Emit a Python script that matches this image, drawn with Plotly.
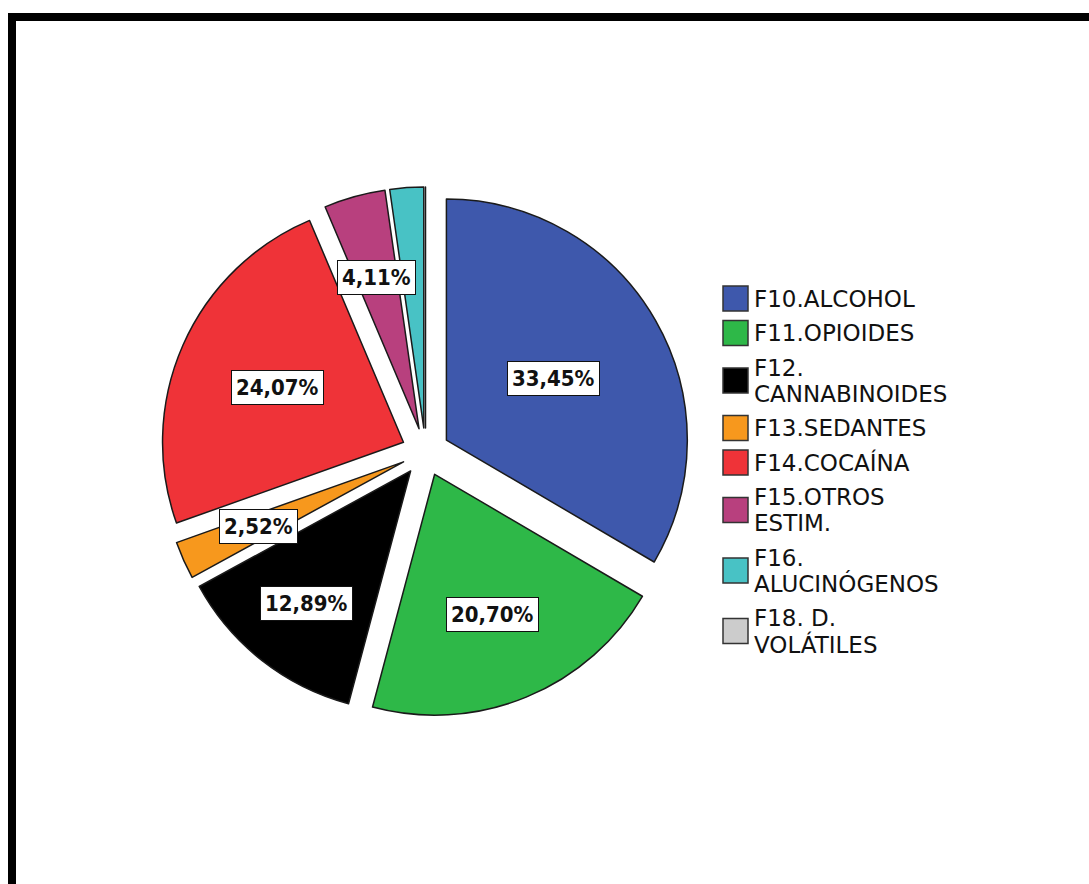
import math
import plotly.graph_objects as go

# Substance categories (ICD-10 F1x groups) and their share of cases, in %
categories = [
    "F10.ALCOHOL",
    "F11.OPIOIDES",
    "F12. CANNABINOIDES",
    "F13.SEDANTES",
    "F14.COCAÍNA",
    "F15.OTROS ESTIM.",
    "F16. ALUCINÓGENOS",
    "F18. D. VOLÁTILES",
]
percentages = [33.45, 20.70, 12.89, 2.52, 24.07, 4.11, 2.26, 0.0]
colors = ["#3E58AC", "#2EB848", "#000000", "#F7981D",
          "#EF3338", "#B8407E", "#48C2C5", "#CCCCCC"]

# Figure geometry (pixels)
W, H = 1089, 884
pie_cx, pie_cy = 425.5, 452.0
pie_box = 530.0
pull = 0.10
# radial position of each value label, as a fraction of the radius
label_radius = [0.612, 0.730, 0.802, 0.758, 0.669, 0.752, 0.70, 0.70]
min_labelled = 2.5

fig = go.Figure()

fig.add_trace(go.Pie(
    labels=categories,
    values=percentages,
    sort=False,
    direction="clockwise",
    rotation=0,
    pull=[pull] * len(categories),
    marker=dict(colors=colors, line=dict(color="#1a1a1a", width=1.5)),
    textinfo="none",
    hoverinfo="label+percent",
    showlegend=False,
    domain=dict(
        x=[(pie_cx - pie_box / 2) / W, (pie_cx + pie_box / 2) / W],
        y=[1 - (pie_cy + pie_box / 2) / H, 1 - (pie_cy - pie_box / 2) / H],
    ),
))

annotations = []
shapes = []

# Value labels in white boxes, placed along each slice's bisector
radius = pie_box / (2 + 2 * pull)
total = sum(percentages)
cum = 0.0
for v, f in zip(percentages, label_radius):
    mid = math.radians(360.0 * (cum + v / 2) / total)
    cum += v
    if v < min_labelled:
        continue
    px = pie_cx + f * radius * math.sin(mid)
    py = pie_cy - f * radius * math.cos(mid)
    annotations.append(dict(
        x=px / W, y=1 - py / H, xref="paper", yref="paper",
        text=f"{v:.2f}".replace(".", ",") + "%",
        showarrow=False, xanchor="center", yanchor="middle",
        font=dict(family="Liberation Sans Narrow, DejaVu Sans Condensed, sans-serif",
                  size=22, color="#111111", weight="bold"),
        bgcolor="white", bordercolor="#111111", borderwidth=1, borderpad=4,
    ))

# Legend: colour squares with wrapped category names
leg_x_box, leg_box = 723, 25
leg_x_text = 752
line_gap, item_gap = 26.0, 34.5
y_line = 298.5
for name, col in zip(categories, colors):
    lines = name.rsplit(" ", 1) if " " in name else [name]
    ys = [y_line + k * line_gap for k in range(len(lines))]
    yc = sum(ys) / len(ys)
    shapes.append(dict(
        type="rect", xref="paper", yref="paper",
        x0=leg_x_box / W, x1=(leg_x_box + leg_box) / W,
        y0=1 - (yc + leg_box / 2) / H, y1=1 - (yc - leg_box / 2) / H,
        fillcolor=col, line=dict(color="#333333", width=1.5),
    ))
    for txt, yy in zip(lines, ys):
        annotations.append(dict(
            x=leg_x_text / W, y=1 - yy / H, xref="paper", yref="paper",
            text=txt, showarrow=False, xanchor="left", yanchor="middle",
            font=dict(family="DejaVu Sans, sans-serif", size=23, color="#111111"),
        ))
    y_line = ys[-1] + item_gap

# Outer frame (top and left edges)
shapes.append(dict(type="line", xref="paper", yref="paper",
                   x0=12 / W, x1=1.0, y0=1 - 17 / H, y1=1 - 17 / H,
                   line=dict(color="black", width=8)))
shapes.append(dict(type="line", xref="paper", yref="paper",
                   x0=12 / W, x1=12 / W, y0=1 - 13 / H, y1=0.0,
                   line=dict(color="black", width=8)))

fig.update_layout(
    width=W, height=H,
    margin=dict(l=0, r=0, t=0, b=0),
    paper_bgcolor="white", plot_bgcolor="white",
    annotations=annotations, shapes=shapes,
)

fig.write_html("out.html")
